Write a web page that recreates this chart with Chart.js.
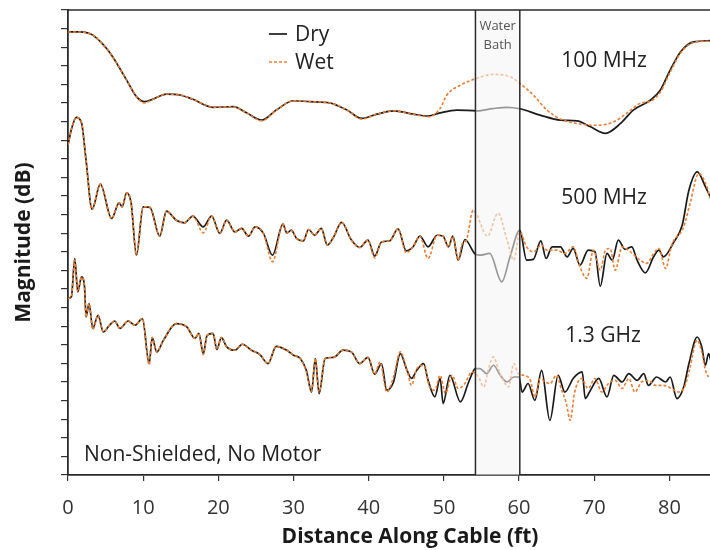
<!DOCTYPE html>
<html>
<head>
<meta charset="utf-8">
<script src="https://cdn.jsdelivr.net/npm/chart.js@4.4.1/dist/chart.umd.min.js"></script>
<style>
  html, body { margin: 0; padding: 0; background: #fff; overflow: hidden; }
  #wrap { width: 710px; height: 550px; }
</style>
</head>
<body>
<div id="wrap"><canvas id="myChart" width="710" height="550"></canvas></div>
<script>
"use strict";

// distance along cable (ft) and magnitude (dB)
const x100Dry = [0,1.5,2.7,3.3,4.5,5.6,6.7,7.8,9.1,10.2,11.3,13.1,14.9,16.6,19.3,22,23.8,25.8,27.7,30,32.2,34.8,37.1,39.1,41.1,43.3,45.9,47.9,49.5,51.7,54.4,56.5,58.4,60.1,62.8,65.5,67.7,69.5,71.5,73.5,75.2,77.5,78.8,80.1,81.5,83.2,85.5];
const y100Dry = [-11.8,-11.8,-12.4,-13.5,-17.8,-23.1,-30.1,-37.7,-46.6,-49.3,-47.9,-45.2,-45.7,-48.0,-52.3,-52.0,-55.4,-59.2,-53.8,-48.8,-49.3,-49.9,-53.8,-58.3,-56.0,-54.2,-56.0,-57.0,-55.3,-53.8,-54.2,-53.0,-52.3,-53.1,-56.5,-59.2,-59.6,-62.8,-66.3,-61.0,-53.8,-48.4,-43.0,-32.3,-22.4,-17.1,-16.5];
const x100Wet = [0,1.5,2.7,3.3,4.5,5.6,6.7,7.8,9.1,10.2,11.3,13.1,14.9,16.6,19.3,22,23.8,25.8,27.7,30,32.2,34.8,37.1,39.1,41.1,43.3,45.9,48.1,49.5,50.4,52.2,54.4,56.6,58.8,60.1,61.9,63.7,65.5,68.1,70.4,72.6,74.4,76.1,77.5,78.8,80.1,81.5,83.2,85.5];
const y100Wet = [-11.8,-11.8,-12.4,-13.5,-17.8,-23.1,-30.1,-37.7,-46.6,-50.0,-48.0,-45.2,-45.7,-48.0,-52.3,-52.0,-55.4,-59.6,-53.8,-48.8,-49.3,-49.9,-53.8,-58.6,-56.0,-54.2,-56.0,-57.4,-52.9,-45.7,-40.4,-36.7,-34.6,-35.9,-39.4,-45.7,-53.8,-58.6,-61.3,-62.0,-60.1,-55.3,-50.2,-49.0,-44.1,-33.4,-23.1,-17.5,-16.7];

const x500Dry = [0,0.5,1.1,1.8,2.4,3.2,4.3,5.8,6.8,7.2,7.8,8.4,9.1,10,10.9,12.2,13.1,14.4,15.5,16.6,18,19.1,20.2,21.1,22.2,23.1,24,24.9,26,27.2,28.6,29.1,29.7,30.4,31.3,32,32.8,33.7,34.5,35.3,36.4,37.7,38.8,39.9,40.8,41.7,42.8,43.9,45,45.9,46.8,47.9,49.1,49.9,50.6,51.2,51.9,52.8,54.2,54.8,56.1,57.7,58.8,60.1,61,61.9,62.9,63.6,64.4,65.5,66.4,67.2,68.1,69.2,70.1,70.8,71.7,72.4,73.2,74.1,75,75.7,76.8,77.9,78.6,79.2,80.6,81.7,82.6,83.7,84.8,85.5];
const y500Dry = [-72.6,-63.5,-57.7,-60.8,-80.7,-107.2,-93.6,-112.1,-103.7,-105.8,-98.3,-103.8,-131.8,-105.8,-106.1,-121.6,-108.1,-113.0,-114.4,-110.8,-116.6,-110.8,-120.1,-113.0,-119.3,-117.4,-121.6,-116.6,-120.1,-131.8,-115.1,-119.8,-118.4,-122.8,-124.1,-118.0,-121.1,-117.4,-126.4,-122.3,-114.2,-123.7,-127.7,-123.7,-132.3,-124.7,-124.1,-117.7,-129.5,-127.3,-121.6,-127.3,-121.1,-121.6,-127.3,-121.6,-134.5,-123.4,-131.3,-131.8,-130.9,-146.2,-132.7,-118.4,-134.5,-134.1,-124.1,-133.6,-127.3,-127.3,-132.7,-128.2,-137.2,-129.1,-130.0,-148.5,-130.9,-134.5,-123.7,-128.7,-127.3,-134.5,-141.3,-132.7,-129.1,-132.7,-124.7,-115.7,-96.8,-87.0,-95.1,-101.1];
const x500Wet = [0,0.5,1.1,1.8,2.4,3.2,4.3,5.8,6.8,7.2,7.8,8.4,9.1,10,10.9,12.2,13.1,14.4,15.5,16.6,18,19.1,20.2,21.1,22.2,23.1,24,24.9,26,27.2,28.6,29.1,29.7,30.4,31.3,32,32.8,33.7,34.5,35.3,36.4,37.7,38.8,39.9,40.8,41.7,42.8,43.9,45,45.9,46.8,47.9,49.1,49.9,50.6,51.2,51.9,52.4,53.0,53.9,55.8,57.2,58.4,59.3,60.1,61.0,61.9,63.0,63.7,65.0,66.1,67.2,68.1,69.0,69.9,70.8,71.5,72.1,72.8,73.7,74.8,76.1,77.0,77.9,78.6,79.5,80.3,81.9,82.8,83.9,85.0,85.5];
const y500Wet = [-72.6,-63.5,-57.7,-60.8,-80.7,-107.2,-93.6,-112.1,-103.7,-105.8,-98.3,-103.8,-131.8,-105.8,-106.1,-121.6,-108.1,-113.0,-114.4,-110.8,-119.8,-110.8,-120.1,-113.0,-119.3,-117.4,-121.6,-116.6,-120.1,-135.4,-115.1,-119.8,-118.4,-122.8,-124.1,-118.0,-121.1,-117.4,-126.4,-122.3,-114.2,-123.7,-127.7,-123.7,-133.3,-124.7,-124.1,-117.7,-130.5,-127.3,-121.6,-133.6,-121.1,-121.6,-127.3,-121.6,-134.5,-126.0,-123.7,-107.6,-121.6,-109.2,-123.7,-134.5,-119.3,-127.3,-130.0,-126.4,-129.1,-129.1,-130.9,-127.3,-138.1,-144.3,-129.1,-139.9,-129.1,-128.2,-139.9,-127.3,-130.0,-134.5,-136.2,-130.9,-128.2,-139.0,-126.4,-116.6,-103.1,-87.9,-95.1,-102.2];

const x13Dry = [0,0.45,0.9,1.3,1.8,2.2,2.4,2.8,3.3,4,4.7,5.5,6.2,6.9,8,8.9,9.9,10.8,11.2,11.8,12.7,14.4,15.8,16.9,17.4,18,18.5,19.3,19.8,20.4,21.1,22.2,23.2,24.4,25.5,26.6,27.7,29.1,30,30.9,31.7,32.4,32.9,33.4,34.2,35.3,36.6,37.7,38.8,39.9,40.8,41.7,42.4,43.3,44.2,45.1,45.7,46.4,47.3,47.9,48.8,49.5,49.9,50.8,52.2,53.3,54.2,54.8,55.7,56.6,57.5,58.4,59.3,60,60.4,61.2,62.1,63,64.1,65.2,66.1,67.2,68.4,68.8,69.5,70.6,71.7,72.6,73.7,74.6,75.7,76.6,77.2,78.3,79.5,80.1,81,81.9,82.6,83.7,84.3,84.8,85.2,85.5];
const y13Dry = [-155.1,-154.2,-133.6,-151.6,-143.5,-148.9,-165.0,-157.8,-171.2,-164.1,-173.1,-169.5,-167.2,-171.2,-167.2,-169.5,-165.9,-190.1,-176.1,-183.8,-177.5,-168.6,-170.4,-176.6,-173.9,-184.7,-174.9,-173.9,-182.5,-176.1,-181.1,-182.9,-179.7,-182.9,-185.1,-190.1,-180.8,-182.9,-185.6,-187.4,-193.7,-205.4,-187.4,-206.2,-187.4,-186.8,-182.9,-183.8,-190.1,-186.8,-195.8,-190.1,-204.4,-200.0,-184.7,-193.7,-198.1,-193.7,-190.1,-199.1,-208.0,-198.1,-211.6,-196.4,-210.7,-200.0,-192.8,-192.8,-195.5,-191.0,-196.4,-200.0,-197.3,-197.3,-205.4,-200.8,-209.8,-193.7,-220.6,-196.4,-205.4,-198.1,-194.6,-208.9,-204.4,-198.1,-208.0,-196.4,-200.0,-195.5,-199.1,-195.5,-201.8,-197.3,-200.0,-197.3,-208.9,-202.7,-190.1,-175.8,-181.1,-191.0,-184.7,-188.3];
const x13Wet = [0,0.45,0.9,1.3,1.8,2.2,2.4,2.8,3.3,4,4.7,5.5,6.2,6.9,8,8.9,9.9,10.8,11.2,11.8,12.7,14.4,15.8,16.9,17.4,18,18.5,19.3,19.8,20.4,21.1,22.2,23.2,24.4,25.5,26.6,27.7,29.1,30,30.9,31.7,32.4,32.9,33.4,34.2,35.3,36.6,37.7,38.8,39.9,40.8,41.5,42.4,43.3,44.2,45.1,45.7,46.4,47.3,48.1,48.8,49.5,50.2,51.1,51.9,52.8,53.7,54.6,55.3,56.0,56.6,57.3,57.9,58.6,59.3,59.9,60.6,61.5,62.1,62.8,63.5,64.1,65.0,65.6,66.3,66.8,67.4,68.3,69.2,70.1,71.0,71.9,72.8,73.7,74.6,75.4,76.3,77.2,78.1,79.2,80.3,81.2,82.1,82.7,83.7,84.3,84.8,85.2];
const y13Wet = [-155.1,-154.2,-134.5,-151.6,-143.5,-149.5,-165.0,-157.8,-171.8,-164.1,-173.1,-169.5,-167.2,-171.2,-167.2,-169.5,-165.9,-190.6,-176.1,-183.8,-177.5,-168.6,-170.4,-176.6,-173.9,-185.3,-174.9,-173.9,-182.5,-176.1,-181.1,-182.9,-179.7,-182.9,-185.1,-190.1,-180.8,-182.9,-185.6,-187.4,-194.3,-204.9,-187.4,-205.4,-187.4,-186.8,-182.9,-183.8,-190.1,-186.8,-195.8,-189.2,-205.4,-197.3,-183.8,-193.7,-201.8,-192.8,-191.0,-202.7,-204.4,-196.4,-206.2,-196.4,-203.5,-200.8,-194.6,-197.3,-202.7,-191.9,-186.5,-193.7,-199.1,-202.7,-190.1,-195.5,-196.4,-199.1,-208.0,-198.1,-200.0,-200.8,-196.4,-203.5,-211.6,-220.6,-205.4,-198.1,-203.5,-198.1,-205.4,-200.8,-199.1,-203.5,-198.1,-205.4,-200.0,-199.1,-201.8,-201.8,-203.5,-205.4,-201.8,-192.8,-177.5,-183.8,-193.7,-197.3];

const bathStart = 54.2;
const bathEnd = 60.1;
const xTicks = [0, 10, 20, 30, 40, 50, 60, 70, 80];

const DRY = '#1a1a1a';
const WET = '#ED7D31';
const FONT = "'Open Sans', 'Noto Sans', sans-serif";

const pts = (xs, ys) => xs.map((x, i) => ({ x: x, y: ys[i] }));

const dryStyle = { borderColor: DRY, borderWidth: 1.7, order: 2 };
const wetStyle = { borderColor: WET, borderWidth: 1.6, borderDash: [3, 2], order: 1 };

// water bath box, frame line, band labels and legend
const overlay = {
    id: 'overlay',
    afterDatasetsDraw(chart) {
        const { ctx, chartArea: a, scales: { x } } = chart;
        const l = x.getPixelForValue(bathStart);
        const r = x.getPixelForValue(bathEnd);
        ctx.save();
        ctx.fillStyle = 'rgba(245,245,245,0.58)';
        ctx.fillRect(l, a.top, r - l, a.bottom - a.top);
        ctx.strokeStyle = '#2a2a2a';
        ctx.lineWidth = 1.5;
        ctx.beginPath();
        ctx.moveTo(l, a.top); ctx.lineTo(l, a.bottom);
        ctx.moveTo(r, a.top); ctx.lineTo(r, a.bottom);
        ctx.moveTo(a.left, a.top); ctx.lineTo(a.right, a.top);
        ctx.stroke();

        ctx.fillStyle = '#555';
        ctx.font = "13px " + FONT;
        ctx.textAlign = 'center';
        ctx.textBaseline = 'middle';
        ctx.fillText('Water', (l + r) / 2, 26);
        ctx.fillText('Bath', (l + r) / 2, 45);

        ctx.fillStyle = '#222';
        ctx.font = "21px " + FONT;
        ctx.fillText('100 MHz', 604, 61);
        ctx.fillText('500 MHz', 604, 198);
        ctx.fillText('1.3 GHz', 603, 336);

        ctx.textAlign = 'left';
        ctx.fillText('Non-Shielded, No Motor', 84, 455);

        // legend
        ctx.fillText('Dry', 295, 35);
        ctx.fillText('Wet', 295, 63);
        ctx.lineWidth = 1.7;
        ctx.strokeStyle = DRY;
        ctx.beginPath(); ctx.moveTo(269, 34); ctx.lineTo(287, 34); ctx.stroke();
        ctx.strokeStyle = WET;
        ctx.setLineDash([3, 2]);
        ctx.beginPath(); ctx.moveTo(269, 62); ctx.lineTo(288, 62); ctx.stroke();
        ctx.setLineDash([]);

        ctx.textAlign = 'center';
        ctx.font = "bold 21px " + FONT;
        ctx.fillStyle = '#1a1a1a';
        ctx.fillText('Distance Along Cable (ft)', 410, 537);
        ctx.restore();
    }
};

new Chart(document.getElementById('myChart'), {
    type: 'line',
    data: {
        datasets: [
            { label: 'Dry', data: pts(x100Dry, y100Dry), ...dryStyle },
            { label: 'Wet', data: pts(x100Wet, y100Wet), ...wetStyle },
            { label: 'Dry 500 MHz', data: pts(x500Dry, y500Dry), ...dryStyle },
            { label: 'Wet 500 MHz', data: pts(x500Wet, y500Wet), ...wetStyle },
            { label: 'Dry 1.3 GHz', data: pts(x13Dry, y13Dry), ...dryStyle },
            { label: 'Wet 1.3 GHz', data: pts(x13Wet, y13Wet), ...wetStyle }
        ]
    },
    options: {
        responsive: false,
        animation: false,
        devicePixelRatio: 1,
        layout: { padding: { top: 10, left: 0, right: 0, bottom: 0 } },
        elements: {
            point: { radius: 0 },
            line: { tension: 0.4, cubicInterpolationMode: 'monotone', fill: false }
        },
        plugins: {
            legend: { display: false },
            tooltip: { enabled: false }
        },
        scales: {
            x: {
                type: 'linear',
                min: 0,
                max: 85.4,
                afterFit: (s) => { s.height = 75; },
                afterBuildTicks: (s) => { s.ticks = xTicks.map(v => ({ value: v })); },
                ticks: {
                    includeBounds: false,
                    color: '#333',
                    padding: 15,
                    maxRotation: 0,
                    font: { family: FONT, size: 20 }
                },
                grid: { drawOnChartArea: false, drawTicks: true, tickLength: 6, color: '#333', lineWidth: 1.2 },
                border: { color: '#2a2a2a', width: 1.8 }
            },
            y: {
                min: -250,
                max: 0,
                afterFit: (s) => { s.width = 68; },
                ticks: { stepSize: 10, display: false },
                grid: { drawOnChartArea: false, drawTicks: true, tickLength: 7, color: '#333', lineWidth: 1.2 },
                border: { color: '#2a2a2a', width: 1.8 },
                title: {
                    display: true,
                    text: 'Magnitude (dB)',
                    color: '#1a1a1a',
                    font: { family: FONT, size: 21, weight: 'bold' },
                    padding: { top: 11, bottom: 0 }
                }
            }
        }
    },
    plugins: [overlay]
});
</script>
</body>
</html>
